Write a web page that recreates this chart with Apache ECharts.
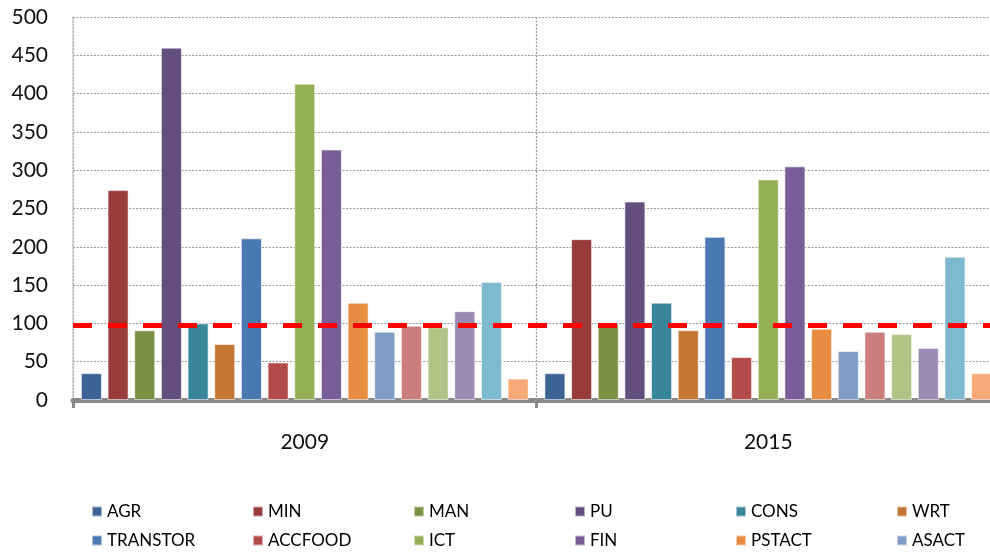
<!DOCTYPE html>
<html>
<head>
<meta charset="utf-8">
<script src="https://cdn.jsdelivr.net/npm/echarts@6/dist/echarts.min.js"></script>
<style>
  html, body { margin: 0; padding: 0; overflow: hidden; background: #fff; }
  #chart { width: 1000px; height: 600px; }
</style>
</head>
<body>
<div id="chart"></div>
<script>
// Years on the category axis
const years = ['2009', '2015'];

// Sector codes, in plotting order
const sectors = ['AGR', 'MIN', 'MAN', 'PU', 'CONS', 'WRT', 'TRANSTOR', 'ACCFOOD',
                 'ICT', 'FIN', 'PSTACT', 'ASACT', 'PUBADM', 'EDUC', 'HEALTH', 'ARTS', 'OTHSERV'];

// Index values per sector: [2009, 2015]
const AGR      = [35, 35];
const MIN      = [274, 210];
const MAN      = [91, 100];
const PU       = [460, 259];
const CONS     = [100, 127];
const WRT      = [73, 91];
const TRANSTOR = [211, 213];
const ACCFOOD  = [49, 56];
const ICT      = [413, 288];
const FIN      = [327, 305];
const PSTACT   = [127, 93];
const ASACT    = [89, 64];
const PUBADM   = [97, 89];
const EDUC     = [95, 86];
const HEALTH   = [116, 68];
const ARTS     = [154, 187];
const OTHSERV  = [28, 35];

const values = [AGR, MIN, MAN, PU, CONS, WRT, TRANSTOR, ACCFOOD, ICT, FIN,
                PSTACT, ASACT, PUBADM, EDUC, HEALTH, ARTS, OTHSERV];

// Reference level (average = 100)
const referenceLevel = [98];

// Y axis ticks
const yMin = 0, yMax = 500, yStep = 50;

const colors = ['#3D6396', '#983C3B', '#7A9143', '#634E7E', '#39869A', '#C47634',
                '#4A78B0', '#B24B49', '#93B055', '#785D98', '#E88C41', '#7E9CC7',
                '#CB7E7D', '#AEC585', '#9C8AB3', '#7DB9CF', '#F7AA77'];

const FONT = 'Lato, "Liberation Sans", sans-serif';
const gridGray = '#9a9a9a';

const series = sectors.map((name, i) => ({
  name: name,
  type: 'bar',
  data: values[i],
  barWidth: 21,
  barGap: '27%',
  itemStyle: { color: colors[i], borderColor: 'rgba(255,255,255,0.55)', borderWidth: 1 },
  emphasis: { disabled: true },
  z: 2
}));

// Dashed reference line drawn above all bars
series.push({
  name: 'ref',
  type: 'line',
  data: [],
  z: 10,
  silent: true,
  markLine: {
    silent: true,
    symbol: ['none', 'none'],
    label: { show: false },
    lineStyle: { color: '#FF0000', width: 5, type: [19, 16] },
    emphasis: { disabled: true },
    data: referenceLevel.map(v => ({ yAxis: v }))
  }
});

const chart = echarts.init(document.getElementById('chart'), null, { renderer: 'canvas' });
chart.setOption({
  animation: false,
  color: colors,
  textStyle: { fontFamily: FONT },
  grid: { left: 73, right: 0, top: 17, bottom: 200, containLabel: false },
  xAxis: {
    type: 'category',
    data: years,
    offset: 2,
    axisLine: { show: true, lineStyle: { color: '#898989', width: 5 } },
    axisTick: { show: true, length: 8, lineStyle: { color: '#898989', width: 3 } },
    axisLabel: { color: '#111', fontSize: 21, fontFamily: FONT, margin: 30 },
    splitLine: { show: true, lineStyle: { color: gridGray, width: 1.2, type: [2, 1.5] } }
  },
  yAxis: {
    type: 'value',
    min: yMin, max: yMax, interval: yStep,
    axisLine: { show: true, lineStyle: { color: '#c4c4c4', width: 1.5, type: [2, 1.5] } },
    axisTick: { show: false },
    axisLabel: { color: '#111', fontSize: 21, fontFamily: FONT, margin: 25 },
    splitLine: { show: true, lineStyle: { color: gridGray, width: 1.2, type: [2, 1.5] } }
  },
  legend: {
    data: sectors,
    left: 86,
    top: 497,
    width: 960,
    itemWidth: 10,
    itemHeight: 10,
    itemGap: 10,
    icon: 'rect',
    selectedMode: false,
    textStyle: { fontSize: 17, fontFamily: FONT, color: '#000', width: 135, lineHeight: 19, padding: [0, 0, 0, 0] }
  },
  series: series
});
</script>
</body>
</html>
